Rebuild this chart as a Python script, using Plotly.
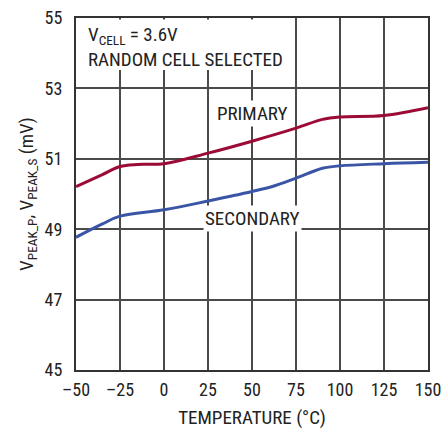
import plotly.graph_objects as go

temp_primary = [-50, -35, -25, -15, 0, 25, 50, 75, 90, 100, 125, 150]
v_primary = [50.21, 50.55, 50.78, 50.84, 50.86, 51.16, 51.50, 51.87, 52.12, 52.19, 52.23, 52.45]
temp_secondary = [-50, -35, -25, 0, 25, 50, 62, 75, 90, 100, 125, 150]
v_secondary = [48.77, 49.15, 49.37, 49.55, 49.80, 50.07, 50.22, 50.45, 50.73, 50.80, 50.86, 50.90]
x_ticks = [-50, -25, 0, 25, 50, 75, 100, 125, 150]
x_ticktext = ["–50", "–25", "0", "25", "50", "75", "100", "125", "150"]
y_ticks = [45, 47, 49, 51, 53, 55]

FONT = "Roboto Condensed, sans-serif"
GRID = "#4a4a4a"
TXT = "#222"

fig = go.Figure()
fig.add_trace(go.Scatter(x=temp_primary, y=v_primary, mode="lines",
                         line=dict(color="#9b0b35", width=3, shape="spline", smoothing=1.0),
                         showlegend=False))
fig.add_trace(go.Scatter(x=temp_secondary, y=v_secondary, mode="lines",
                         line=dict(color="#3a55a5", width=3, shape="spline", smoothing=1.0),
                         showlegend=False))

fig.add_shape(type="rect", x0=-48.8, x1=54.5, y0=53.52, y1=54.96, layer="above",
              fillcolor="white", line=dict(width=0))

fig.add_annotation(x=-50, y=55, xref="x", yref="y", xanchor="left", yanchor="top",
                   xshift=10, yshift=-3, align="left", showarrow=False,
                   text="V<sub>CELL</sub> = 3.6V<br>RANDOM CELL SELECTED",
                   font=dict(family=FONT, size=19, color=TXT))
fig.add_annotation(x=50, y=52.3, text="PRIMARY", showarrow=False, bgcolor="white",
                   borderpad=1, font=dict(family=FONT, size=19, color=TXT))
fig.add_annotation(x=50, y=49.31, text="SECONDARY", showarrow=False, bgcolor="white",
                   borderpad=1, font=dict(family=FONT, size=19, color=TXT))

fig.update_layout(
    width=441, height=429,
    margin=dict(l=76, r=13, t=18, b=59, autoexpand=False),
    paper_bgcolor="white", plot_bgcolor="white",
    font=dict(family=FONT, size=18, color=TXT),
    xaxis=dict(range=[-50, 150], tickvals=x_ticks, ticktext=x_ticktext,
               showgrid=True, gridcolor=GRID, gridwidth=1.5, automargin=False,
               showline=True, linecolor="#333", linewidth=2, mirror=True,
               ticks="", zeroline=False, ticklabelstandoff=2, ticklabeloverflow="allow",
               title=dict(text="TEMPERATURE (°C)", standoff=12, font=dict(size=19))),
    yaxis=dict(range=[45, 55], tickvals=y_ticks, automargin=False,
               showgrid=True, gridcolor=GRID, gridwidth=1.5,
               showline=True, linecolor="#333", linewidth=2, mirror=True,
               ticks="", zeroline=False, ticklabelstandoff=8, ticklabeloverflow="allow",
               title=dict(text="V<sub>PEAK_P</sub>, V<sub>PEAK_S</sub> (mV)", standoff=6,
                          font=dict(size=19))),
)

fig.write_html("out.html", config={"displayModeBar": False},
               post_script="document.body.style.margin='0';document.body.style.overflow='hidden';")
